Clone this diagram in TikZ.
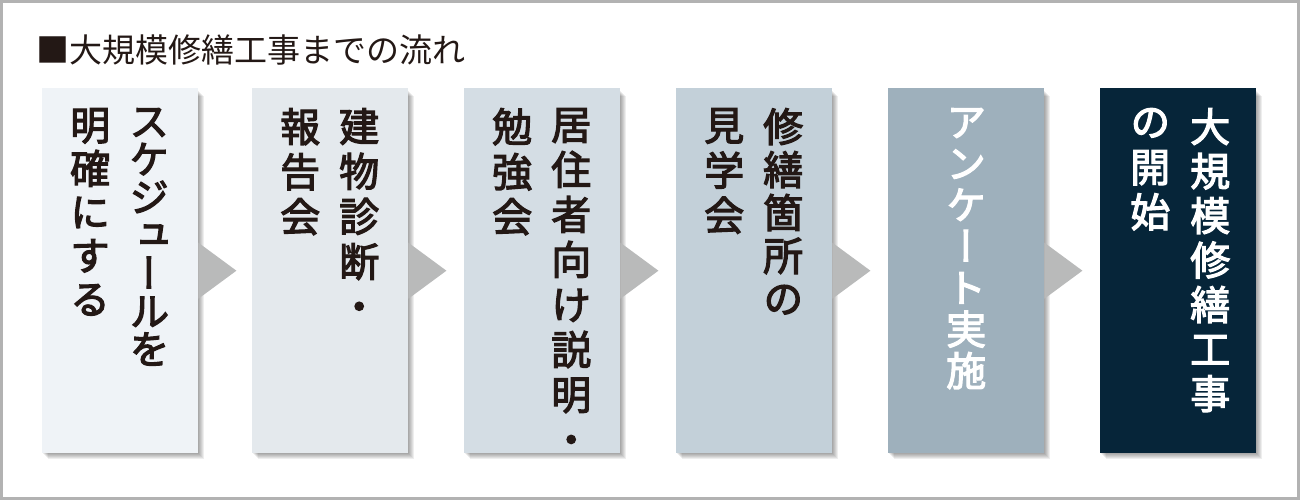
\documentclass[tikz,border=0pt]{standalone}
\usepackage{fontspec}
\newfontfamily\jp{Noto Sans CJK JP}
\newfontfamily\vjp[RawFeature=+vert, FakeBold=3]{Noto Sans CJK JP}
\usetikzlibrary{calc}
\definecolor{ink}{HTML}{231815}
\definecolor{frame}{HTML}{B2B2B2}
\definecolor{cA}{HTML}{EFF3F7}
\definecolor{cB}{HTML}{E4E9ED}
\definecolor{cC}{HTML}{D4DDE4}
\definecolor{cD}{HTML}{C3D0D9}
\definecolor{cE}{HTML}{9EB0BC}
\definecolor{cF}{HTML}{062539}
\definecolor{arrowgray}{HTML}{B9BABA}
\tikzset{
  stepbox/.style={rectangle, minimum width=156pt, minimum height=365pt, inner sep=0pt, anchor=north west},
  coltext/.style={anchor=north, inner sep=0pt, align=center, text=ink},
  whitetext/.style={coltext, text=white},
  tri/.style={fill=arrowgray},
}
\newcommand{\colfont}[1]{\vjp\fontsize{40}{#1}\selectfont}
\begin{document}
\begin{tikzpicture}[x=1pt,y=-1pt]
\useasboundingbox (0,0) rectangle (1300,500);
\fill[white] (0,0) rectangle (1300,500);
\draw[frame, line width=3pt] (1.5,1.5) rectangle (1298.5,498.5);
% title
\node[anchor=west, inner sep=0pt, text=ink, font=\jp\fontsize{33}{33}\selectfont] (title) at (36,50) {■大規模修繕工事までの流れ};
% shadows
\foreach \x in {42,252,464,676,888,1100}{
  \foreach \k in {1,...,6}{
    \fill[black, opacity=0.065] (\x+\k,88+\k+2) rectangle (\x+156+\k,453+\k);
  }
}
% boxes
\node[stepbox, fill=cA] (b1) at (42,88) {};
\node[stepbox, fill=cB] (b2) at (252,88) {};
\node[stepbox, fill=cC] (b3) at (464,88) {};
\node[stepbox, fill=cD] (b4) at (676,88) {};
\node[stepbox, fill=cE] (b5) at (888,88) {};
\node[stepbox, fill=cF] (b6) at (1100,88) {};
% arrows
\foreach \a/\b in {b1/b2,b2/b3,b3/b4,b4/b5,b5/b6}{
  \fill[tri] ($(\a.east)+(0,-28)$) -- ($(\a.east)!38pt!(\b.west)$) -- ($(\a.east)+(0,28)$) -- cycle;
}
% texts
\node[coltext, font=\colfont{38}] (t1a) at ($(b1.north)+(29,20)$) {ス\\ケ\\ジ\\ュ\\ー\\ル\\を};
\node[coltext, font=\colfont{43.5}] (t1b) at ($(b1.north)+(-30,20)$) {明\\確\\に\\す\\る};
\node[coltext, font=\colfont{45}] (t2a) at ($(b2.north)+(29,20)$) {建\\物\\診\\断\\・};
\node[coltext, font=\colfont{45}] (t2b) at ($(b2.north)+(-30,20)$) {報\\告\\会};
\node[coltext, font=\colfont{45}] (t3a) at ($(b3.north)+(29,20)$) {居\\住\\者\\向\\け\\説\\明\\・};
\node[coltext, font=\colfont{45}] (t3b) at ($(b3.north)+(-30,20)$) {勉\\強\\会};
\node[coltext, font=\colfont{43}] (t4a) at ($(b4.north)+(29,20)$) {修\\繕\\箇\\所\\の};
\node[coltext, font=\colfont{45}] (t4b) at ($(b4.north)+(-30,20)$) {見\\学\\会};
\node[whitetext, font=\colfont{41.5}] (t5a) at ($(b5.north)+(0,20)$) {ア\\ン\\ケ\\ー\\ト\\実\\施};
\node[whitetext, font=\colfont{44.5}] (t6a) at ($(b6.north)+(32,20)$) {大\\規\\模\\修\\繕\\工\\事};
\node[whitetext, font=\colfont{45}] (t6b) at ($(b6.north)+(-28,20)$) {の\\開\\始};
\end{tikzpicture}
\end{document}
